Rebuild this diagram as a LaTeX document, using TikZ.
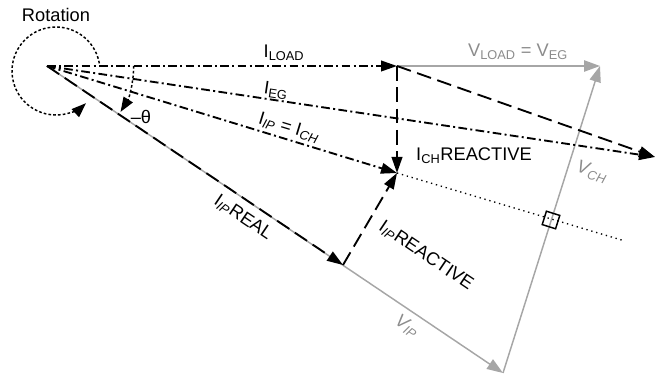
\documentclass[tikz,border=0pt]{standalone}
\usepackage{fontspec}
\setmainfont{Liberation Sans}
\usetikzlibrary{arrows.meta}

\begin{document}
\begin{tikzpicture}[
            x=0.75pt, y=0.75pt,
            vec/.style={line width=1.4pt, -{Triangle[length=12pt,width=8pt]}},
            dashdot/.style={vec, dash pattern=on 6.5pt off 2.5pt on 1.5pt off 2.5pt},
            longdash/.style={vec, dash pattern=on 11pt off 5pt},
            volt/.style={line width=1.1pt, black!35, -{Triangle[length=12pt,width=8.5pt]}},
            turn/.style={line width=1.1pt, dash pattern=on 2pt off 1.6pt, -{Triangle[length=11pt,width=8pt]}},
            lbl/.style={font=\fontsize{13.7}{16}\selectfont, inner sep=0pt},
            vlbl/.style={lbl, black!45}
        ]
            \useasboundingbox (0,0) rectangle (662,-378);

            % Points
            \coordinate (origin) at (47,-66);
            \coordinate (rotc) at (56,-71);
            \coordinate (iload) at (397,-66);
            \coordinate (vload) at (600,-66);
            \coordinate (ieg) at (655,-157);
            \coordinate (ich) at (397,-173);
            \coordinate (ipreal) at (343,-265);
            \coordinate (vip) at (503,-373);
            \coordinate (foot) at (551,-220);
            \coordinate (dotend) at (625,-241);

            % Voltages
            \draw[volt] (origin) -- (vip);
            \draw[volt] (vip) -- (vload);
            \draw[volt] (iload) -- (vload);

            % Currents
            \draw[dashdot] (origin) -- (iload);
            \draw[dashdot] (origin) -- (ieg);
            \draw[dashdot] (origin) -- (ich);
            \draw[longdash] (origin) -- (ipreal);
            \draw[longdash] (iload) -- (ieg);
            \draw[longdash] (iload) -- (ich);
            \draw[longdash] (ipreal) -- (ich);

            % Right angle
            \draw[line width=1pt, dash pattern=on 1pt off 2.8pt] (ich) -- (dotend);
            \node[draw, line width=1.1pt, rotate=-17.5, minimum size=10.5pt, inner sep=0pt] (rsq) at (foot) {};

            % Angles
            \draw[turn] (rotc) ++(10:33pt) arc[start angle=10, end angle=313, radius=33pt];
            \draw[turn] (origin) ++(0:65pt) arc[start angle=0, end angle=-32, radius=65pt];

            % Labels
            \node[lbl] (lrot) at (56,-15) {Rotation};
            \node[lbl] (ltheta) at (141,-117) {--θ};
            \node[lbl] (lload) at (284,-53) {I\textsubscript{LOAD}};
            \node[vlbl] (lvload) at (518,-52) {V\textsubscript{LOAD} = V\textsubscript{EG}};
            \node[lbl, rotate=-8.5] (leg) at (276,-91) {I\textsubscript{EG}};
            \node[lbl, rotate=-17] (lich) at (289,-128) {I\textsubscript{\itshape IP} = I\textsubscript{\itshape CH}};
            \node[lbl] (lchr) at (474,-156) {I\textsubscript{CH}REACTIVE};
            \node[vlbl, rotate=-17, font=\fontsize{13.7}{16}\selectfont\itshape] (lvch) at (592,-172) {V\textsubscript{CH}};
            \node[lbl, rotate=-34] (lreal) at (243,-218) {I\textsubscript{\itshape IP}REAL};
            \node[lbl, rotate=-34] (lipr) at (426,-256) {I\textsubscript{\itshape IP}REACTIVE};
            \node[vlbl, rotate=-34, font=\fontsize{13.7}{16}\selectfont\itshape] (lvip) at (407,-326) {V\textsubscript{IP}};
        \end{tikzpicture}
\end{document}
